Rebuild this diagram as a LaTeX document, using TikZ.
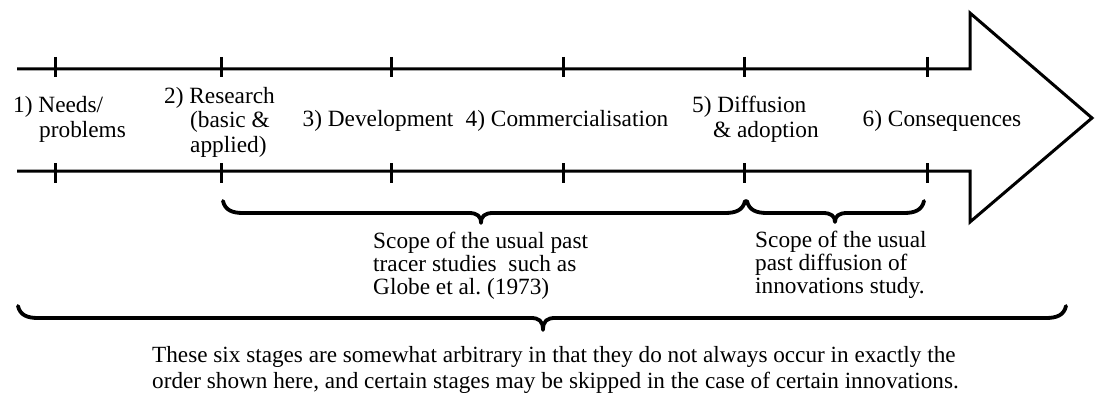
\documentclass[tikz,border=0pt]{standalone}
\usepackage{fontspec}
\setmainfont{Liberation Serif}
\frenchspacing
\begin{document}
\begin{tikzpicture}[x=1pt,y=-1pt,
  frame/.style={line width=3pt, line join=miter},
  tickmark/.style={line width=3pt},
  bracepath/.style={line width=3.8pt, line cap=round, line join=round},
  stage/.style={inner sep=0pt, font=\fontsize{23.3}{24.5}\selectfont, align=left},
  scopetext/.style={inner sep=0pt, font=\fontsize{23.3}{23}\selectfont, align=left},
  notetext/.style={inner sep=0pt, font=\fontsize{23.2}{26}\selectfont, align=left}]
\useasboundingbox (0,0) rectangle (1096,396);

% block arrow, open at its left end
\draw[frame] (17,69) -- (970,69) -- (970,13) -- (1092,118) -- (970,222) -- (970,171) -- (17,171);

% stage boundaries on both rails
\foreach \x [count=\i] in {55,221,391,563,744,927} {
  \coordinate (tt\i) at (\x,69);
  \coordinate (tb\i) at (\x,171);
  \draw[tickmark] (\x,57) -- (\x,77);
  \draw[tickmark] (\x,163) -- (\x,183);
}

% stage labels (base anchor of a multi-line node = last baseline)
\node[stage, anchor=base west] (s1) at (13,137) {1) Needs/\\\hspace*{26pt}problems};
\node[stage, anchor=base west] (s2) at (164,152) {2) Research\\\hspace*{26pt}(basic \&\\\hspace*{26pt}applied)};
\node[stage, anchor=base] (s3) at (378,127) {3) Development};
\node[stage, anchor=base] (s4) at (567,127) {4) Commercialisation};
\node[stage, anchor=base west] (s5) at (692,137) {5) Diffusion\\\hspace*{21pt}\& adoption};
\node[stage, anchor=base] (s6) at (942,126) {6) Consequences};

% curly braces: #1 left end, #2 tip, #3 right end, #4 top, #5 line, #6 tip depth
\newcommand\scopebrace[6]{%
  \draw[bracepath] (#1,#4) .. controls (#1+2,#5-3) and (#1+9,#5) .. (#1+20,#5)
    -- (#2-12,#5) .. controls (#2-4,#5) and (#2,#5+3) .. (#2,#6)
    .. controls (#2,#5+3) and (#2+4,#5) .. (#2+12,#5)
    -- (#3-20,#5) .. controls (#3-9,#5) and (#3-2,#5-3) .. (#3,#4);}
\scopebrace{223}{481}{745}{201}{213}{223}
\scopebrace{747}{835}{924}{201}{213}{222}
\scopebrace{18}{543}{1066}{306}{318}{330}

% scope notes
\node[scopetext, anchor=base west] (c1) at (373,294) {Scope of the usual past\\tracer studies\ \ such as\\Globe et al. (1973)};
\node[scopetext, anchor=base west] (c2) at (755,293) {Scope of the usual\\past diffusion of\\innovations study.};

% closing remark
\node[notetext, anchor=base west] (r) at (152,388) {These six stages are somewhat arbitrary in that they do not always occur in exactly the\\order shown here, and certain stages may be skipped in the case of certain innovations.};
\end{tikzpicture}
\end{document}
